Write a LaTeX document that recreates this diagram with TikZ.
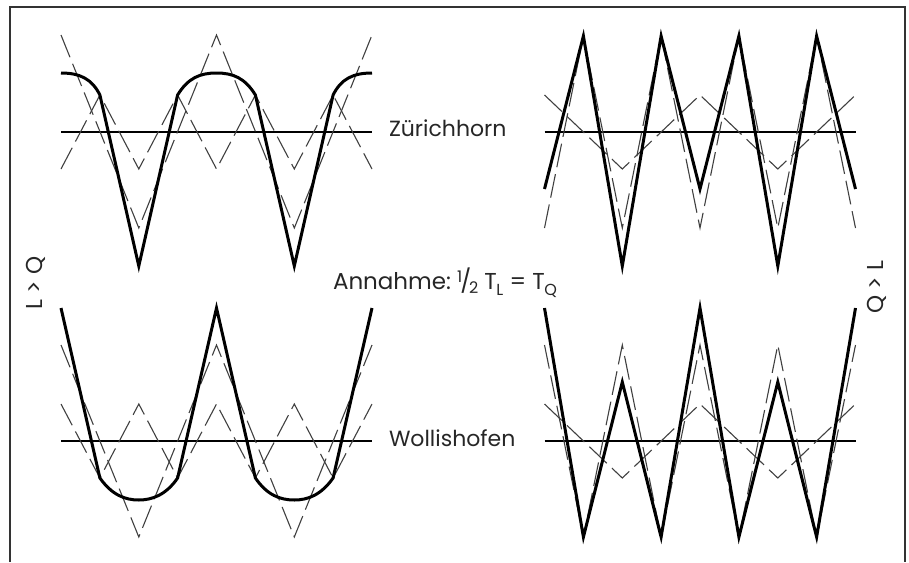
\documentclass[tikz,border=0pt]{standalone}
\usepackage{fontspec}
\setmainfont{Poppins}
\usetikzlibrary{calc}

\newcommand\halfsign{\raisebox{0.5ex}{\fontsize{8}{8}\selectfont 1}\kern-0.08em/\kern-0.1em\raisebox{-0.35ex}{\fontsize{8}{8}\selectfont 2}}
\newcommand\Tsub[1]{T\kern-0.02em\raisebox{-0.5ex}{\fontsize{8}{8}\selectfont #1}}

\begin{document}
\begin{tikzpicture}[x=0.5pt, y=-0.5pt,
  every node/.style={inner sep=0pt, outer sep=0pt, text=black!85, font=\fontsize{11.5}{13}\selectfont},
  place/.style={font=\fontsize{11}{13}\selectfont},
  sumline/.style={line width=1.5pt},
  partline/.style={line width=0.55pt, black!75, dash pattern=on 12pt off 3.5pt},
  axisline/.style={line width=0.7pt},
  frameline/.style={line width=0.6pt, black!80}]
  \useasboundingbox (0,0) rectangle (909,562);
  \draw[frameline] (10,562) -- (10,7) -- (905,7) -- (905,562);

  \draw[axisline] (61,132) -- (372,132);
  \draw[partline] (61,35) -- (138.8,228) -- (216.5,35) -- (294.3,228) -- (372,35);
  \draw[partline] (61,169) -- (99.9,95) -- (138.8,169) -- (177.6,95) -- (216.5,169)
    -- (255.4,95) -- (294.3,169) -- (333.1,95) -- (372,169);
  \draw[sumline] (61,73) .. controls (80,73) and (92,79) .. (99.9,95) -- (138.8,266)
    -- (177.6,95) .. controls (188,78) and (200,73) .. (216.5,73)
    .. controls (233,73) and (245,78) .. (255.4,95) -- (294.3,266)
    -- (333.1,95) .. controls (341,79) and (353,73) .. (372,73);

  \draw[axisline] (544.5,132) -- (855.5,132);
  \draw[partline] (544.5,95) -- (622.3,169) -- (700,95) -- (777.8,169) -- (855.5,95);
  \draw[partline] (544.5,228) -- (583.4,36) -- (622.3,228) -- (661.1,36) -- (700,228)
    -- (738.9,36) -- (777.8,228) -- (816.6,36) -- (855.5,228);
  \draw[sumline] (544.5,189) -- (583.4,36) -- (622.3,266) -- (661.1,36) -- (700,189)
    -- (738.9,36) -- (777.8,266) -- (816.6,36) -- (855.5,189);

  \draw[axisline] (61,441) -- (372,441);
  \draw[partline] (61,345) -- (138.8,537) -- (216.5,345) -- (294.3,537) -- (372,345);
  \draw[partline] (61,404) -- (99.9,478) -- (138.8,404) -- (177.6,478) -- (216.5,404)
    -- (255.4,478) -- (294.3,404) -- (333.1,478) -- (372,404);
  \draw[sumline] (61,308) -- (99.9,478) .. controls (112,495) and (125,500) .. (138.8,500)
    .. controls (152,500) and (166,495) .. (177.6,478) -- (216.5,308) -- (255.4,478)
    .. controls (267,495) and (280,500) .. (294.3,500)
    .. controls (308,500) and (321,495) .. (333.1,478) -- (372,308);

  \draw[axisline] (544.5,441) -- (855.5,441);
  \draw[partline] (544.5,404) -- (622.3,478) -- (700,404) -- (777.8,478) -- (855.5,404);
  \draw[partline] (544.5,345) -- (583.4,537) -- (622.3,345) -- (661.1,537) -- (700,345)
    -- (738.9,537) -- (777.8,345) -- (816.6,537) -- (855.5,345);
  \draw[sumline] (544.5,308) -- (583.4,537) -- (622.3,382) -- (661.1,537) -- (700,308)
    -- (738.9,537) -- (777.8,382) -- (816.6,537) -- (855.5,308);

  \node (zuerich) [place, anchor=base west] at (389,136) {Zürichhorn};
  \node (wolli) [place, anchor=base west] at (389,446) {Wollishofen};
  \node (annahme) [anchor=base west] at (333,289) {Annahme:\ \halfsign\ \Tsub{L} = \Tsub{Q}};
  \node (lq) [rotate=90] at (36,283) {L > Q};
  \node (ql) [rotate=90] at (877,287) {Q > L};
\end{tikzpicture}
\end{document}
